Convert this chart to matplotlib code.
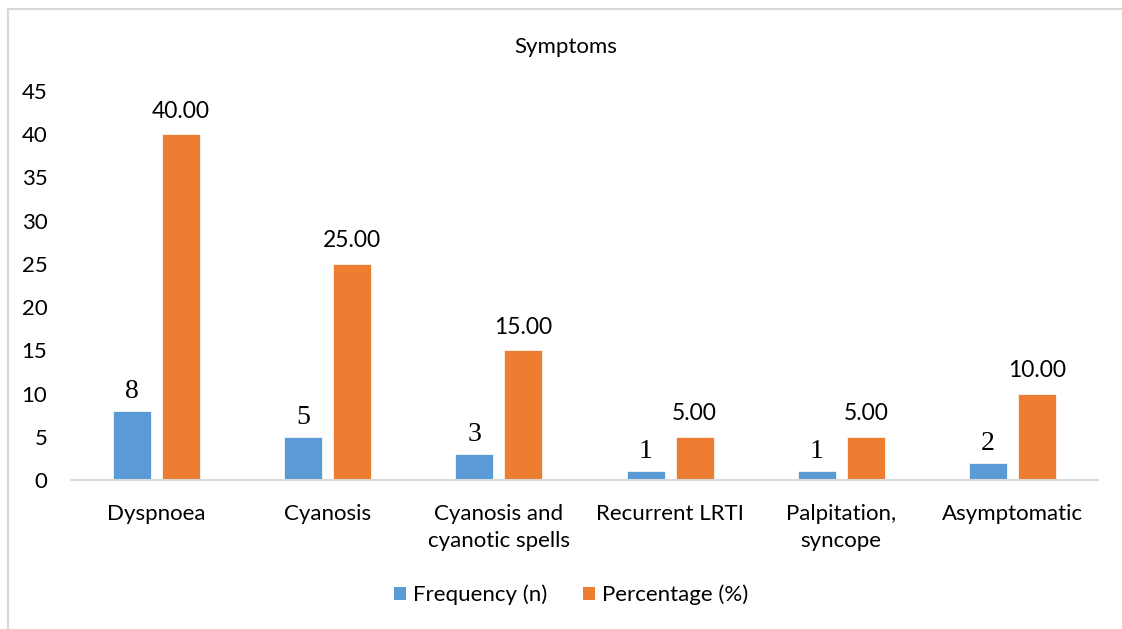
import matplotlib
matplotlib.use("Agg")
import matplotlib.pyplot as plt
import numpy as np
from matplotlib.lines import Line2D
from matplotlib.patches import Patch

categories = ["Dyspnoea", "Cyanosis", "Cyanosis and\ncyanotic spells",
              "Recurrent LRTI", "Palpitation,\nsyncope", "Asymptomatic"]
frequency = [8, 5, 3, 1, 1, 2]
percentage = [40.00, 25.00, 15.00, 5.00, 5.00, 10.00]
series_names = ["Frequency (n)", "Percentage (%)"]
yticks = [0, 5, 10, 15, 20, 25, 30, 35, 40, 45]

BLUE = "#5B9BD5"
ORANGE = "#ED7D31"
SANS = ["Lato", "DejaVu Sans"]
SERIF = ["Liberation Serif", "DejaVu Serif"]
FS = 16

fig = plt.figure(figsize=(11.22, 6.29), dpi=100)
ax = fig.add_axes([71/1122, 1-480/629, (1098-71)/1122, (480-91)/629])

x = np.arange(len(categories))
w = 0.222
off = 0.143
ax.bar(x - off, frequency, w, color=BLUE, edgecolor="white", linewidth=0.5, label=series_names[0])
ax.bar(x + off, percentage, w, color=ORANGE, edgecolor="white", linewidth=0.5, label=series_names[1])

for xi, v in zip(x, frequency):
    ax.annotate(f"{v}", (xi - off, v), xytext=(0, 5), textcoords="offset points",
                ha="center", va="bottom", fontsize=20, family=SERIF, color="#000000")
for xi, v in zip(x, percentage):
    ax.annotate(f"{v:.2f}", (xi + off, v), xytext=(0, 9), textcoords="offset points",
                ha="center", va="bottom", fontsize=16.5, family=SANS, color="#000000")

ax.set_xlim(-0.5, len(categories) - 0.5)
ax.set_ylim(0, 45)
ax.set_yticks(yticks)
ax.set_yticklabels([str(t) for t in yticks], family=SANS, fontsize=FS)
ax.set_xticks(x)
ax.set_xticklabels(categories, family=SANS, fontsize=FS, linespacing=1.45)
ax.tick_params(axis="y", length=0, pad=17)
ax.tick_params(axis="x", length=0, pad=17)
for s in ["top", "right", "left"]:
    ax.spines[s].set_visible(False)
ax.spines["bottom"].set_color("#D9D9D9")
ax.spines["bottom"].set_linewidth(1.5)

fig.text(566/1122, 1-47/629, "Symptoms", ha="center", va="center", family=SANS, fontsize=FS)

handles = [Patch(facecolor=BLUE), Patch(facecolor=ORANGE)]
fig.legend(handles, series_names, loc="center", bbox_to_anchor=(571/1122, 1-595/629),
           ncol=2, frameon=False, prop={"family": SANS, "size": FS},
           handlelength=0.55, handleheight=0.55, handletextpad=0.3, columnspacing=1.6)

# outer chart border (left and top visible)
fig.add_artist(Line2D([7.5/1122, 7.5/1122], [0, 1-8.5/629], color="#D9D9D9", linewidth=1.5, transform=fig.transFigure))
fig.add_artist(Line2D([7.5/1122, 1], [1-8.5/629, 1-8.5/629], color="#D9D9D9", linewidth=1.5, transform=fig.transFigure))

fig.savefig("out.png", dpi=100)
